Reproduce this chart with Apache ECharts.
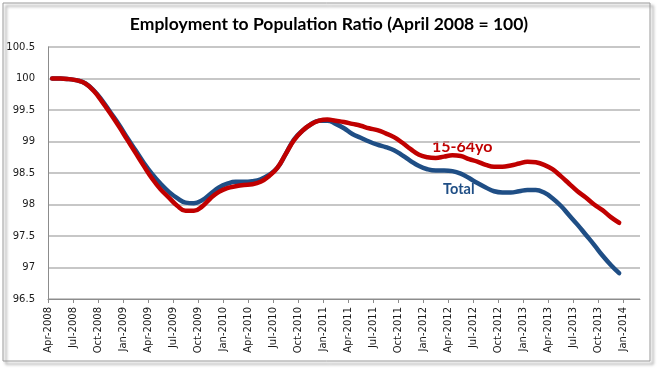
<!DOCTYPE html>
<html>
<head>
<meta charset="utf-8">
<script src="https://cdn.jsdelivr.net/npm/echarts@6/dist/echarts.min.js"></script>
<style>
html,body{margin:0;padding:0;background:#fff;}
#c{width:658px;height:369px;}
</style>
</head>
<body>
<div id="c"></div>
<script>
// Tick labels every 3 months, starting Apr-2008 (month index 0)
const tickLabels = ['Apr-2008','Jul-2008','Oct-2008','Jan-2009','Apr-2009','Jul-2009','Oct-2009','Jan-2010','Apr-2010','Jul-2010','Oct-2010','Jan-2011','Apr-2011','Jul-2011','Oct-2011','Jan-2012','Apr-2012','Jul-2012','Oct-2012','Jan-2013','Apr-2013','Jul-2013','Oct-2013','Jan-2014'];
// Monthly values Apr-2008 .. Dec-2013
const total = [100.00,100.00,99.99,99.97,99.92,99.81,99.65,99.46,99.27,99.06,98.86,98.66,98.48,98.33,98.20,98.10,98.03,98.02,98.07,98.17,98.27,98.33,98.36,98.36,98.37,98.40,98.47,98.58,98.80,99.03,99.17,99.27,99.33,99.33,99.28,99.21,99.12,99.06,99.00,98.95,98.91,98.86,98.78,98.69,98.61,98.56,98.54,98.54,98.53,98.49,98.42,98.34,98.27,98.21,98.19,98.19,98.21,98.23,98.23,98.19,98.10,97.98,97.83,97.68,97.52,97.36,97.19,97.04,96.91];
const age1564 = [100.00,100.00,99.99,99.97,99.92,99.80,99.63,99.44,99.24,99.03,98.82,98.61,98.41,98.24,98.11,97.98,97.90,97.90,97.97,98.10,98.20,98.26,98.29,98.31,98.32,98.36,98.45,98.58,98.80,99.02,99.17,99.27,99.33,99.35,99.33,99.31,99.28,99.25,99.21,99.18,99.13,99.07,98.98,98.88,98.79,98.75,98.74,98.76,98.78,98.77,98.72,98.68,98.63,98.60,98.60,98.62,98.65,98.68,98.67,98.63,98.56,98.45,98.33,98.21,98.11,98.00,97.91,97.80,97.71];

const monthsOnAxis = 71; // Apr-2008 .. Mar-2014
const tickValues = tickLabels.map((_, k) => k * 3);
const toPts = arr => arr.map((v, i) => [i + 0.5, v]); // mid-month

const chart = echarts.init(document.getElementById('c'), null, {renderer: 'canvas'});
chart.setOption({
  animation: false,
  backgroundColor: '#fff',
  title: {
    text: 'Employment to Population Ratio (April 2008 = 100)',
    left: 'center', top: 10,
    textStyle: {fontFamily: 'Lato', fontWeight: 'bold', fontSize: 17.5, color: '#000'}
  },
  grid: {left: 48, right: 18, top: 47, bottom: 70},
  xAxis: {
    type: 'value', min: 0, max: monthsOnAxis,
    axisLine: {show: true, lineStyle: {color: '#8c8c8c', width: 1}},
    axisTick: {show: true, customValues: tickValues, length: 4, lineStyle: {color: '#8c8c8c'}},
    axisLabel: {
      customValues: tickValues, rotate: 90, margin: 8,
      fontFamily: 'DejaVu Sans', fontSize: 10, color: '#1a1a1a',
      formatter: v => tickLabels[Math.round(v / 3)] || ''
    },
    splitLine: {show: false}
  },
  yAxis: {
    type: 'value', min: 96.5, max: 100.5, interval: 0.5,
    axisLine: {show: true, lineStyle: {color: '#8c8c8c', width: 1}},
    axisTick: {show: false},
    axisLabel: {fontFamily: 'DejaVu Sans', fontSize: 10, color: '#1a1a1a', margin: 13},
    splitLine: {show: true, lineStyle: {color: '#b4b4b4', width: 1.5}}
  },
  series: [
    {name: 'Total', type: 'line', data: toPts(total), smooth: 0.45, showSymbol: false,
     lineStyle: {color: '#1f4e85', width: 4.5, cap: 'round'}, z: 2},
    {name: '15-64yo', type: 'line', data: toPts(age1564), smooth: 0.45, showSymbol: false,
     lineStyle: {color: '#c00000', width: 4.5, cap: 'round'}, z: 3}
  ],
  graphic: [
    {type: 'rect', shape: {x: 3, y: 3, width: 647, height: 358},
     style: {fill: 'none', stroke: '#9a9a9a', lineWidth: 1, shadowBlur: 3, shadowOffsetX: 3, shadowOffsetY: 3, shadowColor: 'rgba(0,0,0,0.55)'}, z: -10, silent: true},
    {type: 'text', left: 432, top: 139,
     style: {text: '15-64yo', fill: '#c00000', font: 'bold 16px Lato'}},
    {type: 'text', left: 443, top: 182,
     style: {text: 'Total', fill: '#1f4e85', font: 'bold 14.5px Lato'}}
  ]
});
</script>
</body>
</html>
